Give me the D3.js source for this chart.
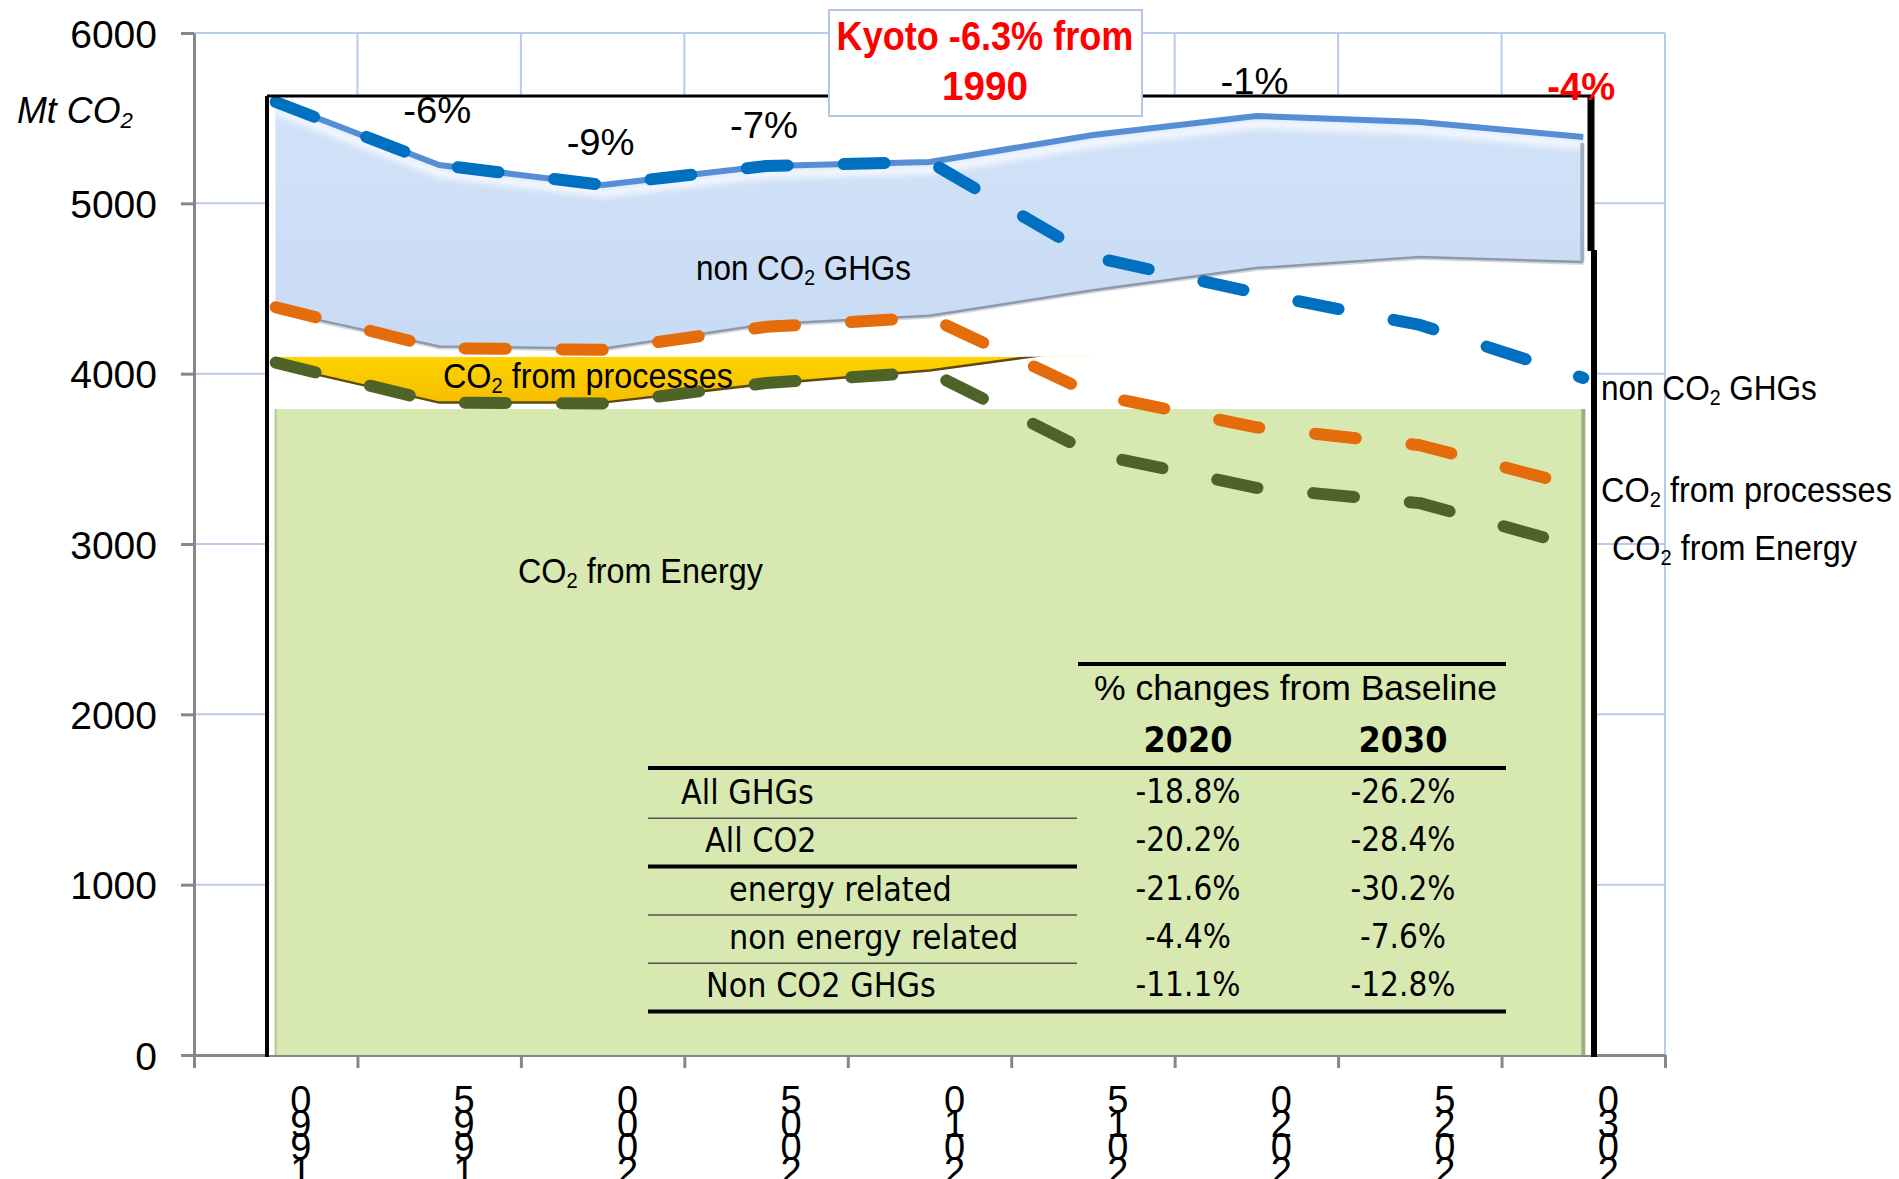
<!DOCTYPE html>
<html>
<head>
<meta charset="utf-8">
<script src="https://cdn.jsdelivr.net/npm/d3@7"></script>
<style>
  body { margin: 0; background: #fff; }
  svg { display: block; }
</style>
</head>
<body>
<svg id="chart"></svg>
<script>
// ---- data (Mt CO2 eq.) ----
let years = ["1990", "1995", "2000", "2005", "2010", "2015", "2020", "2025", "2030"];
let yTicks = [0, 1000, 2000, 3000, 4000, 5000, 6000];

let allGhgBaseline = [5595, 5225, 5108, 5219, 5243, 5401, 5513, 5478, 5389];
let allGhgPolicy = [5595, 5225, 5108, 5219, 5243, 4685, 4474, 4286, 3975];
let co2Baseline = [4370, 4160, 4147, 4290, 4340, 4490, 4620, 4685, 4655];
let co2Policy = [4390, 4150, 4140, 4275, 4330, 3880, 3685, 3580, 3330];
let energyPolicy = [4065, 3830, 3825, 3945, 4010, 3530, 3330, 3240, 2975];
let energyBaseline = [4050, 3830, 3830, 3940, 4018, 4150];

// levels of the pasted boxes in the original slide
let processesTop = 4100;
let energyBoxTop = 3792;

let changeLabels = ["-6%", "-9%", "-7%", "-1%", "-4%"];
let changeYears = ["1995", "2000", "2005", "2020", "2030"];

let tableRows = ["All GHGs", "All CO2", "energy related", "non energy related", "Non CO2 GHGs"];
let tableYears = ["2020", "2030"];
let change2020 = ["-18.8%", "-20.2%", "-21.6%", "-4.4%", "-11.1%"];
let change2030 = ["-26.2%", "-28.4%", "-30.2%", "-7.6%", "-12.8%"];

const ARIAL = "'Liberation Sans', Arial, sans-serif";
const TAHOMA = "'DejaVu Sans', Verdana, sans-serif";

function getConfig() {
  let width = 1899;
  let height = 1179;
  let container = d3.select("#chart")
    .attr("width", width)
    .attr("height", height);
  let frame = { left: 267, top: 96, right: 1591, bottom: 1055 };
  return { width, height, container, frame };
}

function getScales() {
  let x = d3.scaleBand().domain(years).range([194, 1665]);
  let y = d3.scaleLinear().domain([0, 6000]).range([1055, 33]);
  let cx = d => x(d) + x.bandwidth() / 2;
  return { x, y, cx };
}

// text with optional {sub} parts, squeezed to the width seen in the picture
function label(parent, x, y, str, opt) {
  let t = parent.append("text")
    .attr("font-family", opt.family || ARIAL)
    .attr("font-size", opt.size)
    .attr("font-weight", opt.weight || "normal")
    .attr("font-style", opt.style || "normal")
    .attr("fill", opt.color || "#000")
    .attr("text-anchor", opt.anchor || "start");
  let shift = opt.size * 0.14;
  let afterSub = false;
  str.split(/(\{[^}]*\})/).filter(s => s.length).forEach(s => {
    if (s[0] === "{") {
      t.append("tspan").attr("font-size", opt.size * 0.62).attr("dy", shift).text(s.slice(1, -1));
      afterSub = true;
    } else {
      let ts = t.append("tspan").text(s);
      if (afterSub) ts.attr("dy", -shift);
      afterSub = false;
    }
  });
  let sx = opt.scale || 1;
  if (opt.width) sx = opt.width / t.node().getComputedTextLength();
  t.attr("transform", `translate(${x},${y}) scale(${sx},1)`);
  return t;
}

function drawGrid(config, scales) {
  let { container } = config;
  let { x, y } = scales;
  let g = container.append("g");
  g.selectAll("line.h").data(yTicks.filter(d => d > 0)).enter()
    .append("line")
    .attr("x1", 194).attr("x2", 1665)
    .attr("y1", d => y(d)).attr("y2", d => y(d))
    .attr("stroke", "#b8cbee").attr("stroke-width", 2);
  g.selectAll("line.v").data(years).enter()
    .append("line")
    .attr("x1", d => x(d) + x.bandwidth()).attr("x2", d => x(d) + x.bandwidth())
    .attr("y1", y(6000)).attr("y2", y(0))
    .attr("stroke", "#b8cbee").attr("stroke-width", 2);
}

function drawAxes(config, scales) {
  let { container } = config;
  let { x, y } = scales;

  let yAxis = container.append("g")
    .attr("transform", "translate(194,0)")
    .call(d3.axisLeft(y).tickValues(yTicks).tickSize(13).tickSizeOuter(0).tickFormat(d3.format("d")));
  yAxis.select(".domain").attr("stroke", "#878787").attr("stroke-width", 3);
  yAxis.selectAll(".tick line").attr("stroke", "#878787").attr("stroke-width", 3);
  yAxis.selectAll(".tick text")
    .attr("x", -37).attr("dy", "0.36em")
    .attr("font-family", ARIAL).attr("font-size", 39).attr("fill", "#000");

  let edges = d3.scaleLinear().domain([0, years.length]).range(x.range());
  let xAxis = container.append("g")
    .attr("transform", `translate(0,${y(0)})`)
    .call(d3.axisBottom(edges).tickValues(d3.range(years.length + 1)).tickSize(13).tickSizeOuter(0).tickFormat(""));
  xAxis.select(".domain").attr("stroke", "#878787").attr("stroke-width", 3);
  xAxis.selectAll(".tick line").attr("stroke", "#878787").attr("stroke-width", 3);

  // stacked, reversed digits as in the original slide
  years.forEach(yr => {
    yr.split("").reverse().forEach((ch, i) => {
      container.append("text")
        .attr("x", x(yr) + x.bandwidth() / 2 + 25)
        .attr("y", 1113 + i * 23.5)
        .attr("text-anchor", "middle")
        .attr("font-family", ARIAL).attr("font-size", 38)
        .text(ch);
    });
  });

  label(container, 17, 123, "Mt CO{2}", { size: 37, style: "italic", width: 116 });
}

function drawAreas(config, scales) {
  let { container, frame } = config;
  let { y, cx } = scales;
  let defs = container.append("defs");

  // white inside the black frame
  container.append("rect")
    .attr("x", frame.left).attr("y", frame.top)
    .attr("width", frame.right - frame.left).attr("height", frame.bottom - frame.top)
    .attr("fill", "#fff");

  // CO2 from energy box
  let x0 = cx(years[0]) - 1, x1 = cx(years[years.length - 1]) + 2;
  container.append("rect")
    .attr("x", x0).attr("y", y(energyBoxTop))
    .attr("width", x1 - x0).attr("height", y(0) - y(energyBoxTop))
    .attr("fill", "#d7e8b0");
  container.append("line")
    .attr("x1", x1 - 2).attr("x2", x1 - 2).attr("y1", y(energyBoxTop)).attr("y2", y(0))
    .attr("stroke", "#9fae86").attr("stroke-width", 4);
  container.append("line")
    .attr("x1", x0 + 1).attr("x2", x0 + 1).attr("y1", y(energyBoxTop)).attr("y2", y(0))
    .attr("stroke", "#b9c79a").attr("stroke-width", 2);

  // CO2 from processes band
  let yel = defs.append("linearGradient").attr("id", "yel").attr("x1", 0).attr("x2", 0).attr("y1", 0).attr("y2", 1);
  yel.append("stop").attr("offset", "0%").attr("stop-color", "#ffd800");
  yel.append("stop").attr("offset", "100%").attr("stop-color", "#f6bd00");
  defs.append("clipPath").attr("id", "procClip")
    .append("rect").attr("x", x0).attr("y", y(processesTop)).attr("width", 900).attr("height", 200);
  let eb = energyBaseline.map((v, i) => [cx(years[i]), y(v)]);
  let procArea = d3.area().x(d => d[0]).y0(d => d[1]).y1(y(processesTop));
  let pg = container.append("g").attr("clip-path", "url(#procClip)");
  pg.append("path").datum(eb).attr("d", procArea).attr("fill", "url(#yel)");
  pg.append("path").datum(eb).attr("d", d3.line())
    .attr("fill", "none").attr("stroke", "#5b4a12").attr("stroke-width", 2.5);

  // non CO2 GHGs band
  let blu = defs.append("linearGradient").attr("id", "blu").attr("x1", 0).attr("x2", 0).attr("y1", 0).attr("y2", 1);
  blu.append("stop").attr("offset", "0%").attr("stop-color", "#d2e2f8");
  blu.append("stop").attr("offset", "100%").attr("stop-color", "#c8dbf4");
  let band = years.map((d, i) => ({ x: cx(d), lo: y(co2Baseline[i]), hi: y(allGhgBaseline[i]) }));
  container.append("path").datum(band)
    .attr("d", d3.area().x(d => d.x).y0(d => d.lo + 3).y1(d => d.hi))
    .attr("fill", "#a9b3c2").attr("opacity", 0.5);
  container.append("path").datum(band)
    .attr("d", d3.area().x(d => d.x).y0(d => d.lo).y1(d => d.hi))
    .attr("fill", "url(#blu)");
  let blur = defs.append("filter").attr("id", "soft");
  blur.append("feGaussianBlur").attr("stdDeviation", 3);
  container.append("path").datum(band)
    .attr("d", d3.line().x(d => d.x).y(d => d.hi + 8))
    .attr("fill", "none").attr("stroke", "#f4f8fe").attr("stroke-width", 9)
    .attr("filter", "url(#soft)");
  container.append("path").datum(band)
    .attr("d", d3.line().x(d => d.x).y(d => d.lo))
    .attr("fill", "none").attr("stroke", "#8e99aa").attr("stroke-width", 2.5);
  let last = band[band.length - 1];
  container.append("line")
    .attr("x1", last.x - 1).attr("x2", last.x - 1).attr("y1", last.hi + 6).attr("y2", last.lo)
    .attr("stroke", "#a3afc0").attr("stroke-width", 4);
}

function drawLines(config, scales) {
  let { container } = config;
  let { y, cx } = scales;
  let line = d3.line().x((d, i) => cx(years[i])).y(d => y(d));

  container.append("path").datum(allGhgBaseline)
    .attr("d", line).attr("fill", "none")
    .attr("stroke", "#558ed5").attr("stroke-width", 6).attr("stroke-linejoin", "round");

  let dashed = [
    { values: energyPolicy, color: "#4f6228" },
    { values: co2Policy, color: "#e46c0a" },
    { values: allGhgPolicy, color: "#0070c0" }
  ];
  dashed.forEach(s => {
    container.append("path").datum(s.values)
      .attr("d", line).attr("fill", "none")
      .attr("stroke", s.color).attr("stroke-width", 12)
      .attr("stroke-linecap", "round").attr("stroke-linejoin", "round")
      .attr("stroke-dasharray", "41 56");
  });
}

function drawFrame(config) {
  let { container, frame } = config;
  container.append("line")
    .attr("x1", frame.left).attr("x2", frame.left).attr("y1", frame.top).attr("y2", frame.bottom + 2)
    .attr("stroke", "#000").attr("stroke-width", 4);
  container.append("line")
    .attr("x1", frame.left).attr("x2", frame.right).attr("y1", frame.top).attr("y2", frame.top)
    .attr("stroke", "#000").attr("stroke-width", 3);
  container.append("line")
    .attr("x1", frame.right).attr("x2", frame.right).attr("y1", frame.top).attr("y2", 251)
    .attr("stroke", "#000").attr("stroke-width", 7);
  container.append("line")
    .attr("x1", frame.right + 3).attr("x2", frame.right + 3).attr("y1", 250).attr("y2", frame.bottom + 2)
    .attr("stroke", "#000").attr("stroke-width", 6);
}

function drawLabels(config, scales) {
  let { container } = config;
  let { y, cx } = scales;

  // Kyoto box
  container.append("rect")
    .attr("x", 829).attr("y", 10).attr("width", 313).attr("height", 106)
    .attr("fill", "#fff").attr("stroke", "#b4c7e7").attr("stroke-width", 2);
  label(container, 985, 50, "Kyoto -6.3% from", { size: 40, weight: "bold", color: "#ff0000", anchor: "middle", width: 297 });
  label(container, 985, 100, "1990", { size: 40, weight: "bold", color: "#ff0000", anchor: "middle", width: 86 });

  // change vs 1990 above the baseline line
  let lift = [42, 30, 28, 22, 37];
  changeLabels.forEach((txt, i) => {
    let yr = changeYears[i];
    let v = allGhgBaseline[years.indexOf(yr)];
    let red = i === changeLabels.length - 1;
    label(container, cx(yr) - 2, y(v) - lift[i], txt, {
      size: red ? 38 : 37, anchor: "middle",
      weight: red ? "bold" : "normal", color: red ? "#ff0000" : "#000", width: 68
    });
  });

  // names on the bands
  label(container, 696, 280, "non CO{2} GHGs", { size: 35, width: 215 });
  label(container, 443, 388, "CO{2} from processes", { size: 35, width: 290 });
  label(container, 518, 583, "CO{2} from Energy", { size: 35, width: 245 });

  // names on the right of the frame
  label(container, 1601, 400, "non CO{2} GHGs", { size: 35, width: 216 });
  label(container, 1601, 502, "CO{2} from processes", { size: 35, width: 291 });
  label(container, 1612, 560, "CO{2} from Energy", { size: 35, width: 245 });
}

function drawTable(config) {
  let { container } = config;
  let left = 648, mid = 1077, right = 1506;
  let colX = [1188, 1403];
  let rowTop = 770, rowH = 48.3;
  let indent = [681, 705, 729, 729, 706];
  let thick = [false, true, false, false, true];

  container.append("line").attr("x1", mid + 1).attr("x2", right).attr("y1", 664).attr("y2", 664)
    .attr("stroke", "#000").attr("stroke-width", 4);
  container.append("line").attr("x1", left).attr("x2", right).attr("y1", 768).attr("y2", 768)
    .attr("stroke", "#000").attr("stroke-width", 4);

  label(container, 1094, 700, "% changes from Baseline", { size: 35, width: 403 });
  tableYears.forEach((yr, j) => {
    label(container, colX[j], 752, yr, { size: 35, family: TAHOMA, weight: "bold", anchor: "middle", width: 89 });
  });

  tableRows.forEach((name, i) => {
    let base = rowTop + i * rowH + 34;
    label(container, indent[i], base, name, { size: 33, family: TAHOMA, scale: 0.92 });
    label(container, colX[0], base - 1, change2020[i], { size: 33, family: TAHOMA, anchor: "middle", scale: 0.9 });
    label(container, colX[1], base - 1, change2030[i], { size: 33, family: TAHOMA, anchor: "middle", scale: 0.9 });
    let sy = rowTop + (i + 1) * rowH;
    let last = i === tableRows.length - 1;
    container.append("line")
      .attr("x1", left).attr("x2", last ? right : mid)
      .attr("y1", sy).attr("y2", sy)
      .attr("stroke", thick[i] ? "#000" : "#555")
      .attr("stroke-width", thick[i] ? 4 : 1.5);
  });
}

function showChart() {
  let config = getConfig();
  let scales = getScales();
  drawGrid(config, scales);
  drawAxes(config, scales);
  drawAreas(config, scales);
  drawLines(config, scales);
  drawFrame(config);
  drawLabels(config, scales);
  drawTable(config);
}

showChart();
</script>
</body>
</html>
